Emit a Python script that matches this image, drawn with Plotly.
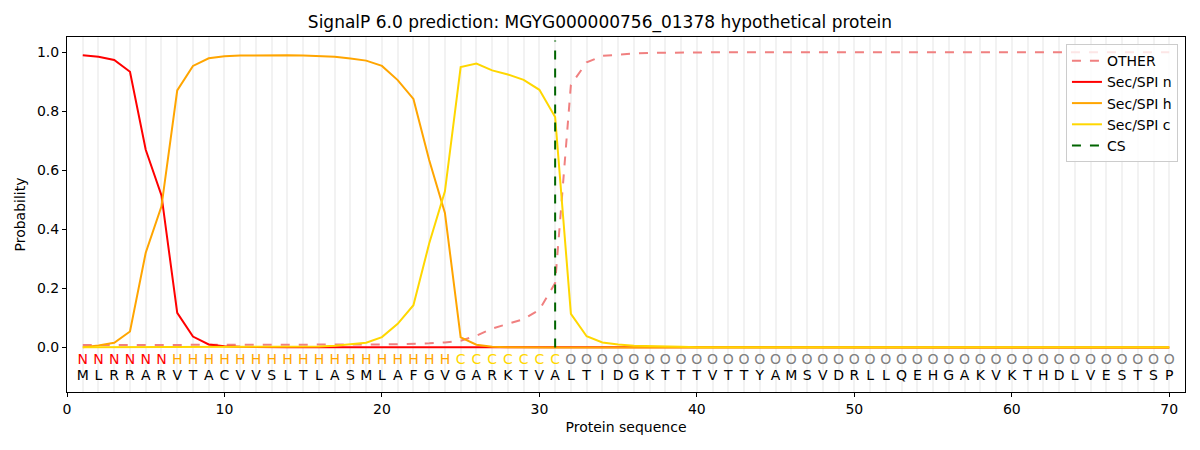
import plotly.graph_objects as go

sequence = list("MLRRARVTACVVSLTLASMLAFGVGARKTVALTIDGKTTTVTTYAMSVDRLLQEHGAKVKTHDLVESTSP")
labels = list("NNNNNN" + "H" * 18 + "C" * 7 + "O" * 39)
positions = list(range(1, len(sequence) + 1))

other = [0.008] * 18 + [0.009, 0.010, 0.011, 0.012, 0.014, 0.017, 0.023, 0.040, 0.064,
                        0.080, 0.096, 0.128, 0.218, 0.890, 0.966, 0.988, 0.993, 0.996,
                        0.998, 0.999] + [1.0] * 32
sp_n = [0.990, 0.985, 0.974, 0.934, 0.670, 0.515, 0.117, 0.037, 0.010, 0.004,
        0.002, 0.001, 0.001, 0.001, 0.001, 0.001, 0.001, 0.001, 0.001, 0.001] + [0.0] * 50
sp_h = [0.001, 0.007, 0.016, 0.054, 0.321, 0.478, 0.871, 0.954, 0.980, 0.987,
        0.989, 0.990, 0.990, 0.990, 0.989, 0.988, 0.985, 0.979, 0.972, 0.954,
        0.906, 0.842, 0.635, 0.456, 0.034, 0.009, 0.002, 0.001] + [0.0] * 42
sp_c = [0.001] * 15 + [0.003, 0.006, 0.011, 0.016, 0.035, 0.080, 0.143, 0.352, 0.529,
                       0.950, 0.962, 0.939, 0.925, 0.907, 0.873, 0.781, 0.114, 0.038,
                       0.017, 0.010, 0.006, 0.004, 0.003, 0.002] + [0.001] * 31
cs_pos = 31
cs_span = [0.0, 1.04]

label_colors = {"N": "#ff0000", "H": "#ffa500", "C": "#ffd700", "O": "#808080"}
FONT = "DejaVu Sans"

fig = go.Figure()
fig.add_trace(go.Scatter(x=positions, y=other, mode="lines", name="OTHER",
                         line=dict(color="#f08080", width=2, dash="dash")))
fig.add_trace(go.Scatter(x=positions, y=sp_n, mode="lines", name="Sec/SPI n",
                         line=dict(color="#ff0000", width=2)))
fig.add_trace(go.Scatter(x=positions, y=sp_h, mode="lines", name="Sec/SPI h",
                         line=dict(color="#ffa500", width=2)))
fig.add_trace(go.Scatter(x=positions, y=sp_c, mode="lines", name="Sec/SPI c",
                         line=dict(color="#ffd700", width=2)))
fig.add_trace(go.Scatter(x=[cs_pos, cs_pos], y=cs_span, mode="lines", name="CS",
                         line=dict(color="#006400", width=2, dash="dash")))

fig.add_trace(go.Scatter(x=positions, y=[-0.045] * len(positions), mode="text",
                         text=labels, showlegend=False, hoverinfo="skip",
                         textfont=dict(family=FONT, size=14,
                                       color=[label_colors[l] for l in labels])))
fig.add_trace(go.Scatter(x=positions, y=[-0.098] * len(positions), mode="text",
                         text=sequence, showlegend=False, hoverinfo="skip",
                         textfont=dict(family=FONT, size=14, color="black")))

# page body has an 8px margin; size the figure so it fits in the 1200x450 window
fig.update_layout(
    width=1184, height=434,
    margin=dict(l=59, r=7, t=29, b=50, autoexpand=False),
    paper_bgcolor="white", plot_bgcolor="white",
    font=dict(family=FONT, size=14, color="black"),
    title=dict(text="SignalP 6.0 prediction: MGYG000000756_01378 hypothetical protein",
               x=0.5, xanchor="center", y=0.968, yanchor="middle",
               font=dict(size=17, family=FONT)),
    legend=dict(x=0.9937, y=0.98, xanchor="right", yanchor="top",
                bgcolor="rgba(255,255,255,0.8)", bordercolor="#cccccc", borderwidth=1,
                font=dict(size=14, family=FONT), tracegroupgap=0),
    showlegend=True,
)
fig.update_xaxes(range=[0, 71], tickmode="array", tickvals=[0, 10, 20, 30, 40, 50, 60, 70],
                 showline=True, linecolor="black", linewidth=1, mirror=True,
                 ticks="outside", ticklen=4, tickcolor="black",
                 showgrid=True, gridcolor="#f2f2f2", gridwidth=2,
                 minor=dict(dtick=1, tick0=0, showgrid=True, gridcolor="#f2f2f2", gridwidth=2,
                            ticks=""),
                 zeroline=False, automargin=False,
                 title=dict(text="Protein sequence", font=dict(size=14), standoff=6))
fig.update_yaxes(range=[-0.151, 1.052], tickmode="array",
                 tickvals=[0.0, 0.2, 0.4, 0.6, 0.8, 1.0],
                 ticktext=["0.0", "0.2", "0.4", "0.6", "0.8", "1.0"],
                 showline=True, linecolor="black", linewidth=1, mirror=True,
                 ticks="outside", ticklen=4, tickcolor="black",
                 showgrid=False, zeroline=False, automargin=False,
                 title=dict(text="Probability", font=dict(size=14), standoff=8))

fig.write_html("out.html")
